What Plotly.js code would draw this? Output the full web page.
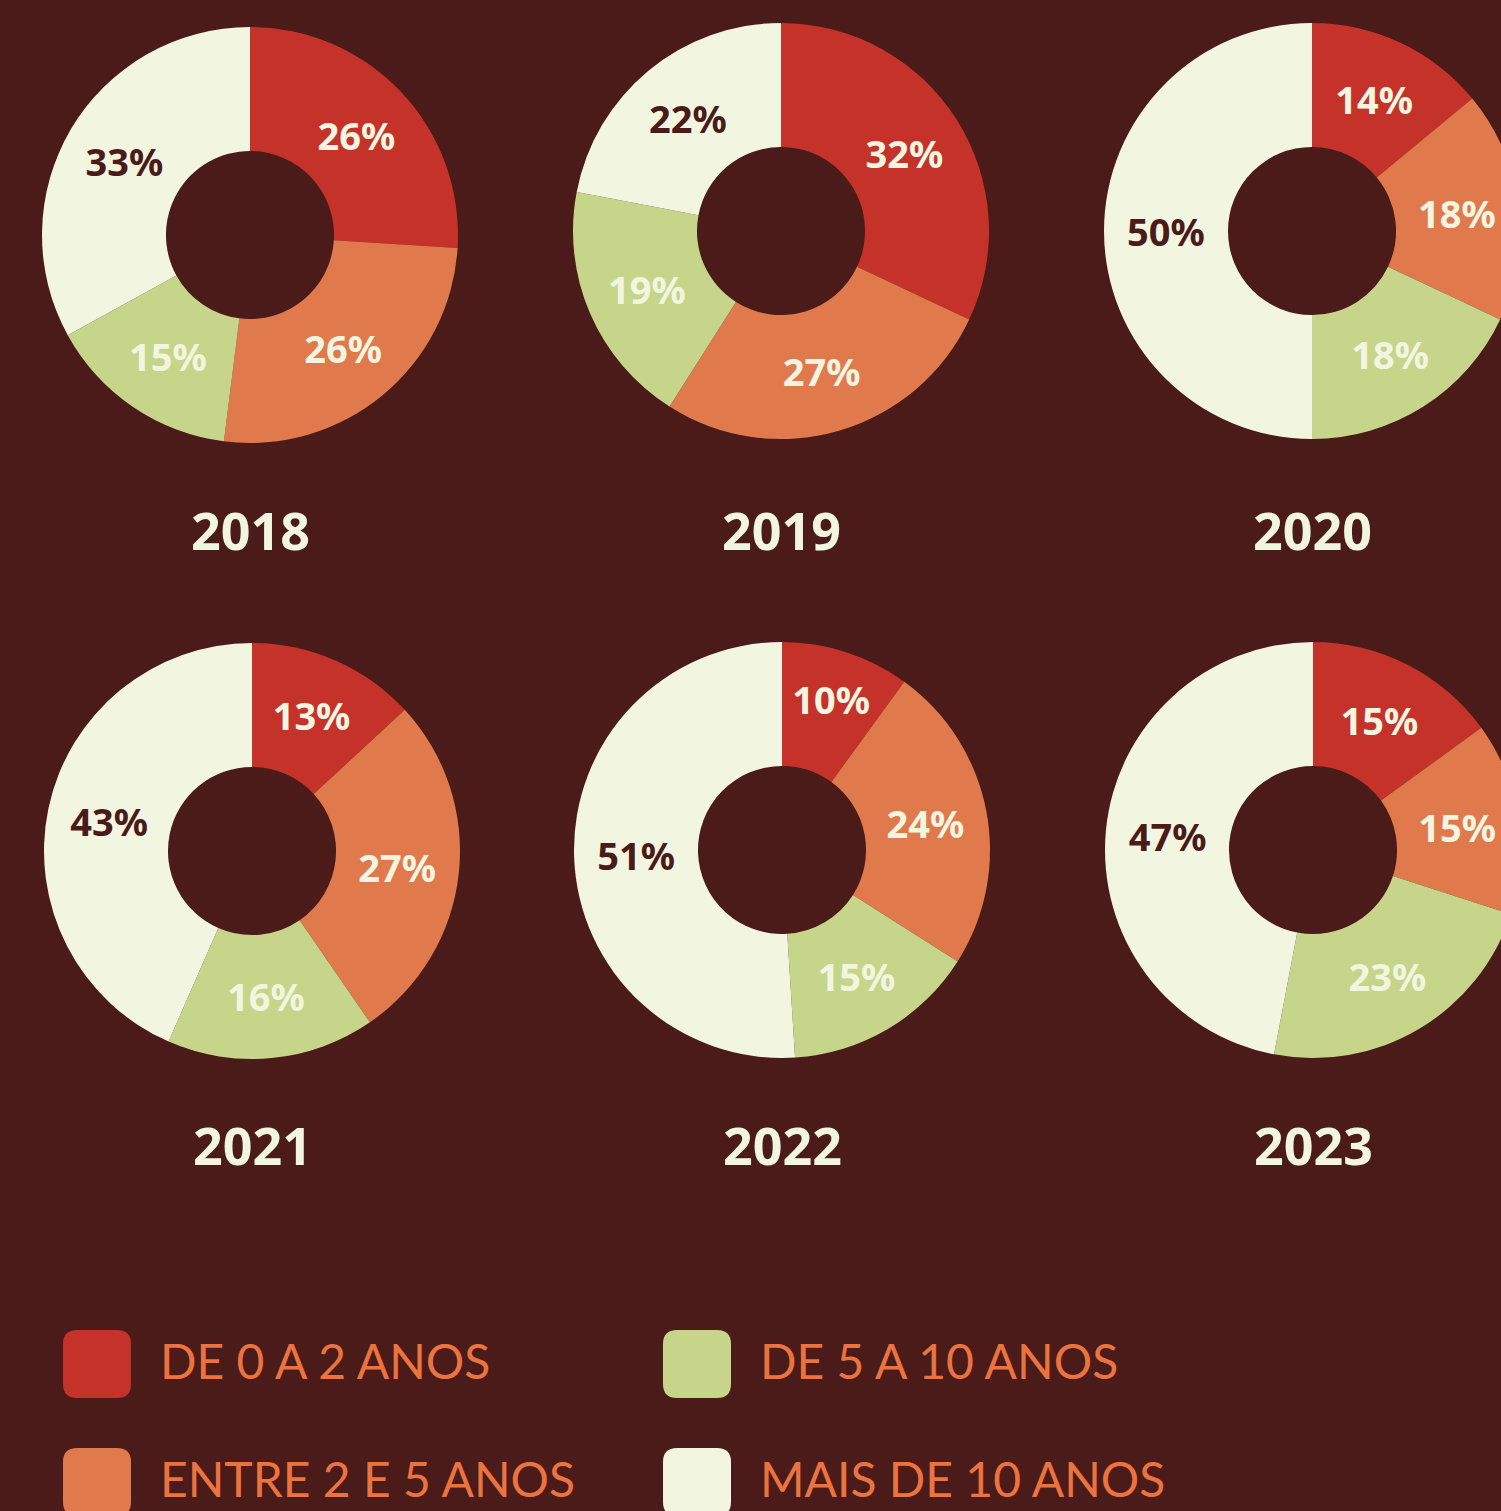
<!DOCTYPE html>
<html>
<head>
<meta charset="utf-8">
<script src="https://cdn.plot.ly/plotly-3.0.1.min.js"></script>
<style>
html, body { margin: 0; padding: 0; overflow: hidden; background: #4A1B19; }
#chart { width: 1560px; height: 1540px; }
</style>
</head>
<body>
<div id="chart"></div>
<script>
// ---- data ----
const years = ['2018', '2019', '2020', '2021', '2022', '2023'];
const categories = ['DE 0 A 2 ANOS', 'ENTRE 2 E 5 ANOS', 'DE 5 A 10 ANOS', 'MAIS DE 10 ANOS'];
const de0a2 = [26, 32, 14, 13, 10, 15];
const entre2e5 = [26, 27, 18, 27, 24, 15];
const de5a10 = [15, 19, 18, 16, 15, 23];
const mais10 = [33, 22, 50, 43, 51, 47];

// ---- styles ----
const W = 1560, H = 1540;
const BG = '#4A1B19';
const COLORS = ['#C4322A', '#E07A4C', '#C7D58A', '#F2F6E1'];
const LIGHT = '#F2F6E1';
const DARK = '#4A1B19';
const LEG_TEXT = '#EB7340';
const centers = [[250, 235], [781, 231], [1312, 231], [252, 851], [782, 850], [1313, 850]];
const R = 208;
const yearLabelY = [530, 530, 530, 1144, 1144, 1144];

const px = x => x / W;
const py = y => 1 - y / H;

const traces = years.map((yr, i) => {
  const [cx, cy] = centers[i];
  return {
    type: 'pie',
    values: [de0a2[i], entre2e5[i], de5a10[i], mais10[i]],
    labels: categories,
    sort: false,
    direction: 'clockwise',
    rotation: 0,
    hole: 0.404,
    domain: { x: [px(cx - R), px(cx + R)], y: [py(cy + R), py(cy - R)] },
    marker: { colors: COLORS, line: { width: 0 } },
    texttemplate: '%{value}%',
    textposition: 'inside',
    insidetextorientation: 'horizontal',
    textfont: { family: 'Noto Sans', size: 38, weight: 700, color: [LIGHT, LIGHT, LIGHT, DARK] },
    hoverinfo: 'none',
    showlegend: false
  };
});

const annotations = years.map((yr, i) => ({
  xref: 'paper', yref: 'paper',
  x: px(centers[i][0]), y: py(yearLabelY[i]),
  xanchor: 'center', yanchor: 'middle',
  text: yr, showarrow: false,
  font: { family: 'Noto Sans', size: 52, weight: 700, color: LIGHT }
}));

// legend
const legPos = [[63, 1330], [63, 1448], [663, 1330], [663, 1448]];
const legTextX = [158, 158, 758, 758];
const shapes = [];
function roundRect(x0, y0, w, h, r) {
  const p = (x, y) => px(x) + ',' + py(y);
  return 'M' + p(x0 + r, y0) + ' L' + p(x0 + w - r, y0) + ' Q' + p(x0 + w, y0) + ' ' + p(x0 + w, y0 + r) +
    ' L' + p(x0 + w, y0 + h - r) + ' Q' + p(x0 + w, y0 + h) + ' ' + p(x0 + w - r, y0 + h) +
    ' L' + p(x0 + r, y0 + h) + ' Q' + p(x0, y0 + h) + ' ' + p(x0, y0 + h - r) +
    ' L' + p(x0, y0 + r) + ' Q' + p(x0, y0) + ' ' + p(x0 + r, y0) + ' Z';
}
categories.forEach((c, k) => {
  const [lx, ly] = legPos[k];
  shapes.push({
    type: 'path', xref: 'paper', yref: 'paper',
    path: roundRect(lx, ly, 68, 68, 14),
    fillcolor: COLORS[k], line: { width: 0 }
  });
  annotations.push({
    xref: 'paper', yref: 'paper',
    x: px(legTextX[k]), y: py(ly + 30),
    xanchor: 'left', yanchor: 'middle',
    text: c, showarrow: false,
    font: { family: 'Lato', size: 48, weight: 400, color: LEG_TEXT }
  });
});

const layout = {
  width: W, height: H,
  margin: { l: 0, r: 0, t: 0, b: 0 },
  paper_bgcolor: BG,
  plot_bgcolor: BG,
  showlegend: false,
  annotations: annotations,
  shapes: shapes
};

Plotly.newPlot('chart', traces, layout, { staticPlot: true, displayModeBar: false });
</script>
</body>
</html>
